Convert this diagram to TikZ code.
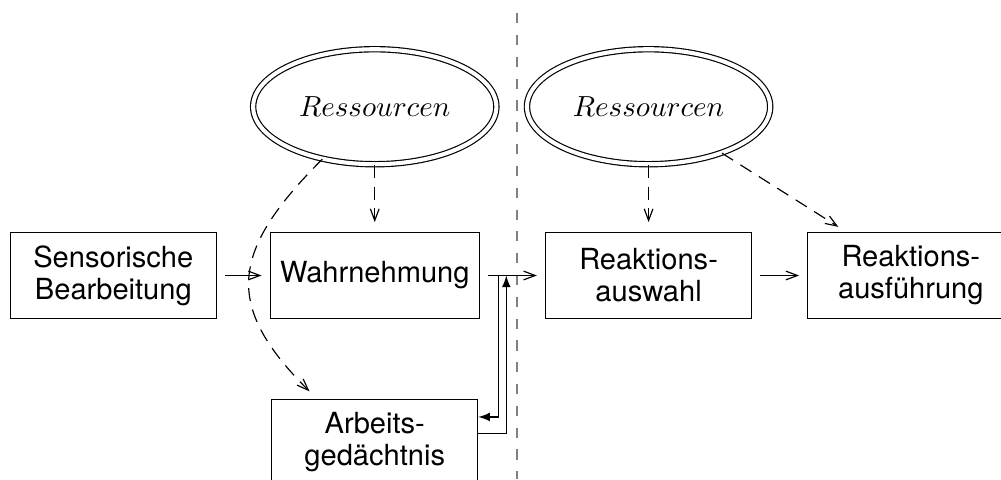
\documentclass[tikz,border=0pt]{standalone}
\usepackage{amsmath}
\usepackage{amssymb}
\usepackage{fontspec}
\setmainfont{TeX Gyre Heros}
\usepackage{tikz}
\usetikzlibrary{shapes.geometric, arrows.meta}

\begin{document}
\begin{tikzpicture}[>={Straight Barb[length=4pt, width=3pt]},
	kasten/.style={draw, minimum width=2.49cm, minimum height=1.03cm, align=center, font=\fontsize{10}{11}\selectfont},
	ressource/.style={ellipse, draw, double, double distance=1.4pt, minimum width=2.94cm, minimum height=1.39cm, inner sep=0pt},
	pfeil/.style={->, shorten <=2.8pt, shorten >=2.8pt},
	einfluss/.style={->, dash pattern=on 4.5pt off 3pt, shorten >=3.5pt}]
	%\draw[help lines, thick] (0,0) grid (12,6);
	\useasboundingbox (0,0) rectangle (12.10,5.79);
	\node[kasten] (sens) at (1.37,2.46) {Sensorische\\Bearbeitung};
	\node[kasten] (wahr) at (4.53,2.46) {Wahrnehmung};
	\node[kasten] (rwahl) at (7.84,2.46) {Reaktions-\\auswahl};
	\node[kasten] (rausf) at (11.01,2.46) {Reaktions-\\ausführung};
	\node[kasten] (arb) at (4.53,0.45) {Arbeits-\\gedächtnis};
	\node[ressource] (res1) at (4.53,4.50) {$Ressourcen$};
	\node[ressource] (res2) at (7.84,4.50) {$Ressourcen$};
	\draw[gray, dash pattern=on 3.5pt off 4pt] (6.25,5.63) -- (6.25,0);
	\draw[pfeil] (sens) -- (wahr);
	\draw[pfeil] (wahr) -- (rwahl);
	\draw[pfeil] (rwahl) -- (rausf);
	\draw[einfluss] (res1) -- (wahr);
	\draw[einfluss] (res2) -- (rwahl);
	\draw[einfluss] (res2) -- ([xshift=0.48cm]rausf.north west);
	\draw[einfluss] (res1) to[out=225, in=135, looseness=1.4] ([xshift=0.55cm]arb.north west);
	\coordinate (abzw) at (6.03,2.46);
	\coordinate (rueck) at (6.12,2.46);
	\draw[-latex] (abzw) |- ([yshift=0.30cm]arb.east);
	\draw[-latex] ([yshift=0.10cm]arb.east) -| (rueck);
\end{tikzpicture}
\end{document}
